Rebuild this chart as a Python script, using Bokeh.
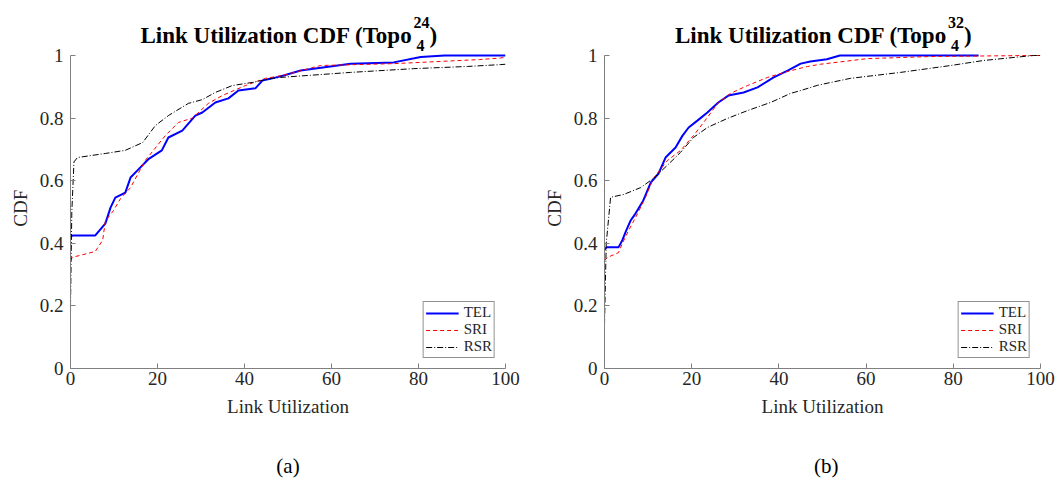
from bokeh.plotting import figure
from bokeh.layouts import row, column
from bokeh.models import FixedTicker, Legend, LegendItem, Range1d
from bokeh.core.properties import value
from bokeh.embed import file_html
from bokeh.resources import INLINE

# ---------------- data ----------------
x_ticks = [0, 20, 40, 60, 80, 100]
y_ticks = [0, 0.2, 0.4, 0.6, 0.8, 1]
y_tick_labels = ["0", "0.2", "0.4", "0.6", "0.8", "1"]
series_names = ["TEL", "SRI", "RSR"]

# panel (a) Topo 4^24
a_tel_x = [0, 0.5, 5.7, 8, 9.2, 10.3, 12.6, 13.8, 15.4, 18, 21, 22.5, 25.7, 28.7, 30.3,
           33.3, 36.3, 38.6, 42.5, 44.1, 46.4, 49, 52.9, 64.4, 74.3, 80.5, 86, 100]
a_tel_y = [0.42, 0.425, 0.425, 0.463, 0.514, 0.546, 0.562, 0.61, 0.633, 0.67, 0.697, 0.738,
           0.76, 0.808, 0.818, 0.85, 0.863, 0.888, 0.895, 0.92, 0.927, 0.936, 0.952, 0.974,
           0.978, 0.995, 1.0, 1.0]
a_sri_x = [0, 0.4, 5.7, 7.4, 8, 9.9, 11.5, 13.8, 17.2, 21.8, 24.8, 28, 31.7, 34.9, 40.2,
           44.8, 48.7, 57.5, 74.3, 80.5, 94, 98.9, 100]
a_sri_y = [0.345, 0.355, 0.374, 0.41, 0.47, 0.505, 0.543, 0.578, 0.665, 0.744, 0.786, 0.80,
           0.847, 0.872, 0.904, 0.927, 0.936, 0.968, 0.974, 0.978, 0.987, 0.992, 0.995]
a_rsr_x = [0, 0.3, 0.8, 1.6, 8, 12.6, 16.6, 19.5, 22.5, 27.1, 30.3, 33.3, 37.2, 41.8, 46.4,
           48.3, 64.4, 78.9, 91.3, 98.9, 100]
a_rsr_y = [0.2, 0.5, 0.66, 0.674, 0.687, 0.697, 0.722, 0.776, 0.808, 0.847, 0.859, 0.882,
           0.904, 0.914, 0.927, 0.93, 0.946, 0.958, 0.965, 0.971, 0.972]

# panel (b) Topo 4^32
b_tel_x = [0, 0.5, 3.2, 4.1, 4.8, 6, 7.1, 8.9, 10.6, 12.4, 14, 16.3, 17.9, 19.3, 21.3, 23.6,
           26.1, 28.4, 31.9, 35.1, 38.8, 42, 45, 47.2, 51, 54, 85.8]
b_tel_y = [0.38, 0.387, 0.387, 0.41, 0.435, 0.473, 0.495, 0.537, 0.594, 0.623, 0.674, 0.706,
           0.744, 0.77, 0.792, 0.818, 0.85, 0.872, 0.882, 0.898, 0.93, 0.952, 0.974, 0.981,
           0.988, 1.0, 1.0]
b_sri_x = [0, 0.7, 3.2, 4.1, 5.5, 7.6, 9.4, 11.2, 14.4, 17.4, 20.4, 23.6, 25.9, 28.9, 32.8,
           37.4, 42, 46.6, 49.5, 60.3, 75.5, 98.4, 100]
b_sri_y = [0.345, 0.355, 0.37, 0.40, 0.44, 0.495, 0.547, 0.607, 0.664, 0.696, 0.744, 0.802,
           0.846, 0.879, 0.904, 0.93, 0.949, 0.965, 0.972, 0.99, 0.997, 1.0, 1.0]
b_rsr_x = [0, 0.4, 1.4, 4.4, 8.3, 11.2, 14.4, 17.4, 20.4, 23.6, 28.2, 32.8, 38.1, 42.7, 45,
           48.9, 56.4, 67.9, 79.4, 86.9, 98.4, 100]
b_rsr_y = [0.14, 0.4, 0.547, 0.556, 0.578, 0.607, 0.649, 0.69, 0.738, 0.77, 0.799, 0.824,
           0.85, 0.879, 0.888, 0.905, 0.927, 0.946, 0.968, 0.984, 1.0, 1.0]

title_main = "Link Utilization CDF (Topo"
titles_sup = ["24", "32"]
titles_sub = ["4", "4"]
captions = ["(a)", "(b)"]
x_label = "Link Utilization"
y_label = "CDF"

SERIF = "Liberation Serif"
AXIS_GRAY = "#808080"
TXT = "#262626"

FRAME_TOP_PX = 55      # where y=1 sits, from the top of the picture
FRAME_BOT_PX = 368     # where y=0 sits
PX_PER_Y = FRAME_BOT_PX - FRAME_TOP_PX
Y_TOP = FRAME_BOT_PX / PX_PER_Y          # data value at the very top of the figure
MAIN_BOTTOM = 70
MAIN_H = FRAME_BOT_PX + MAIN_BOTTOM
CAP_H = 482 - MAIN_H
# the y label is centred on the whole (extended) frame; pad its end with
# non-breaking spaces so the visible word sits centred on the 0..1 axis
Y_LABEL_PAD = "\u00a0" * 10


def px_to_y(px):
    return (FRAME_BOT_PX - px) / PX_PER_Y


def caption_fig(width, cx, caption):
    f = figure(width=width, height=CAP_H, x_range=Range1d(0, width), y_range=Range1d(0, CAP_H),
               output_backend="svg", toolbar_location=None,
               min_border=0, min_border_left=0, min_border_right=0,
               min_border_top=0, min_border_bottom=0)
    f.axis.visible = False
    f.grid.visible = False
    f.outline_line_color = None
    f.text(x=[cx], y=[CAP_H - (465 - MAIN_H)], text=[caption], text_align="center",
           text_baseline="middle", text_font=value(SERIF), text_font_size="21px",
           text_color="black")
    return f


def main_fig(width, border_left, border_right, curves, sup, sub):
    frame_w = width - border_left - border_right
    p = figure(width=width, height=MAIN_H, x_range=Range1d(0, 100), y_range=Range1d(0, Y_TOP),
               output_backend="svg", toolbar_location=None,
               min_border_left=border_left, min_border_right=border_right,
               min_border_top=0, min_border_bottom=MAIN_BOTTOM)
    p.outline_line_color = None
    p.xgrid.visible = False
    p.ygrid.visible = False
    p.background_fill_color = "white"
    p.border_fill_color = "white"

    for ax in (p.xaxis[0], p.yaxis[0]):
        ax.axis_line_color = AXIS_GRAY
        ax.major_tick_line_color = AXIS_GRAY
        ax.minor_tick_line_color = None
        ax.major_tick_in = 5
        ax.major_tick_out = 0
        ax.major_label_text_font = SERIF
        ax.major_label_text_font_size = "19px"
        ax.major_label_text_color = TXT
        ax.axis_label_text_font = SERIF
        ax.axis_label_text_font_size = "19px"
        ax.axis_label_text_font_style = "normal"
        ax.axis_label_text_color = TXT
    p.yaxis.bounds = (0, 1)
    p.xaxis.ticker = FixedTicker(ticks=x_ticks)
    p.yaxis.ticker = FixedTicker(ticks=y_ticks)
    p.yaxis.major_label_overrides = {t: l for t, l in zip(y_ticks, y_tick_labels)}
    p.xaxis.axis_label = x_label
    p.yaxis.axis_label = y_label + Y_LABEL_PAD
    p.xaxis.major_label_standoff = 3
    p.yaxis.major_label_standoff = 7
    p.xaxis.axis_label_standoff = 8
    p.yaxis.axis_label_standoff = 6

    (tx, ty), (sx, sy), (rx, ry) = curves
    r1 = p.line(tx, ty, line_color="#0000ff", line_width=2)
    r2 = p.line(sx, sy, line_color="#ff0000", line_width=1, line_dash="4 3")
    r3 = p.line(rx, ry, line_color="black", line_width=1, line_dash="6 2 1 2")

    legend = Legend(items=[LegendItem(label=series_names[0], renderers=[r1]),
                           LegendItem(label=series_names[1], renderers=[r2]),
                           LegendItem(label=series_names[2], renderers=[r3])],
                    location="bottom_right")
    legend.border_line_color = "#262626"
    legend.border_line_width = 1
    legend.background_fill_color = "white"
    legend.background_fill_alpha = 1
    legend.label_text_font = SERIF
    legend.label_text_font_size = "15px"
    legend.label_text_line_height = 0.8
    legend.label_text_color = TXT
    legend.glyph_width = 33
    legend.glyph_height = 12
    legend.label_height = 12
    legend.label_standoff = 5
    legend.spacing = 0
    legend.padding = 2
    legend.margin = 10
    p.add_layout(legend, "center")

    # title (with stacked sub/superscript), centred over the axes box
    px_per_x = frame_w / 100.0
    anchor_px = frame_w / 2.0 + 124.5          # right end of the main title text

    def x_of(px):
        return px / px_per_x
    common = dict(text_baseline="alphabetic", text_font=value(SERIF),
                  text_font_style="bold", text_color="black")
    p.text(x=[x_of(anchor_px)], y=[px_to_y(35)], text=[title_main], text_align="right",
           text_font_size="23px", **common)
    p.text(x=[x_of(anchor_px + 1)], y=[px_to_y(22)], text=[sup], text_align="left",
           text_font_size="16px", **common)
    p.text(x=[x_of(anchor_px + 4)], y=[px_to_y(45)], text=[sub], text_align="left",
           text_font_size="16px", **common)
    p.text(x=[x_of(anchor_px + 17)], y=[px_to_y(35)], text=[")"], text_align="left",
           text_font_size="23px", **common)
    return p


WA, WB = 530, 527
pa = main_fig(WA, 70, 25, ((a_tel_x, a_tel_y), (a_sri_x, a_sri_y), (a_rsr_x, a_rsr_y)),
              titles_sup[0], titles_sub[0])
pb = main_fig(WB, 74, 17, ((b_tel_x, b_tel_y), (b_sri_x, b_sri_y), (b_rsr_x, b_rsr_y)),
              titles_sup[1], titles_sub[1])
ca = caption_fig(WA, 265, captions[0])
cb = caption_fig(WB, 268, captions[1])

layout = row(column(pa, ca, spacing=0), column(pb, cb, spacing=0), spacing=0)
open("out.html", "w").write(file_html(layout, INLINE))
